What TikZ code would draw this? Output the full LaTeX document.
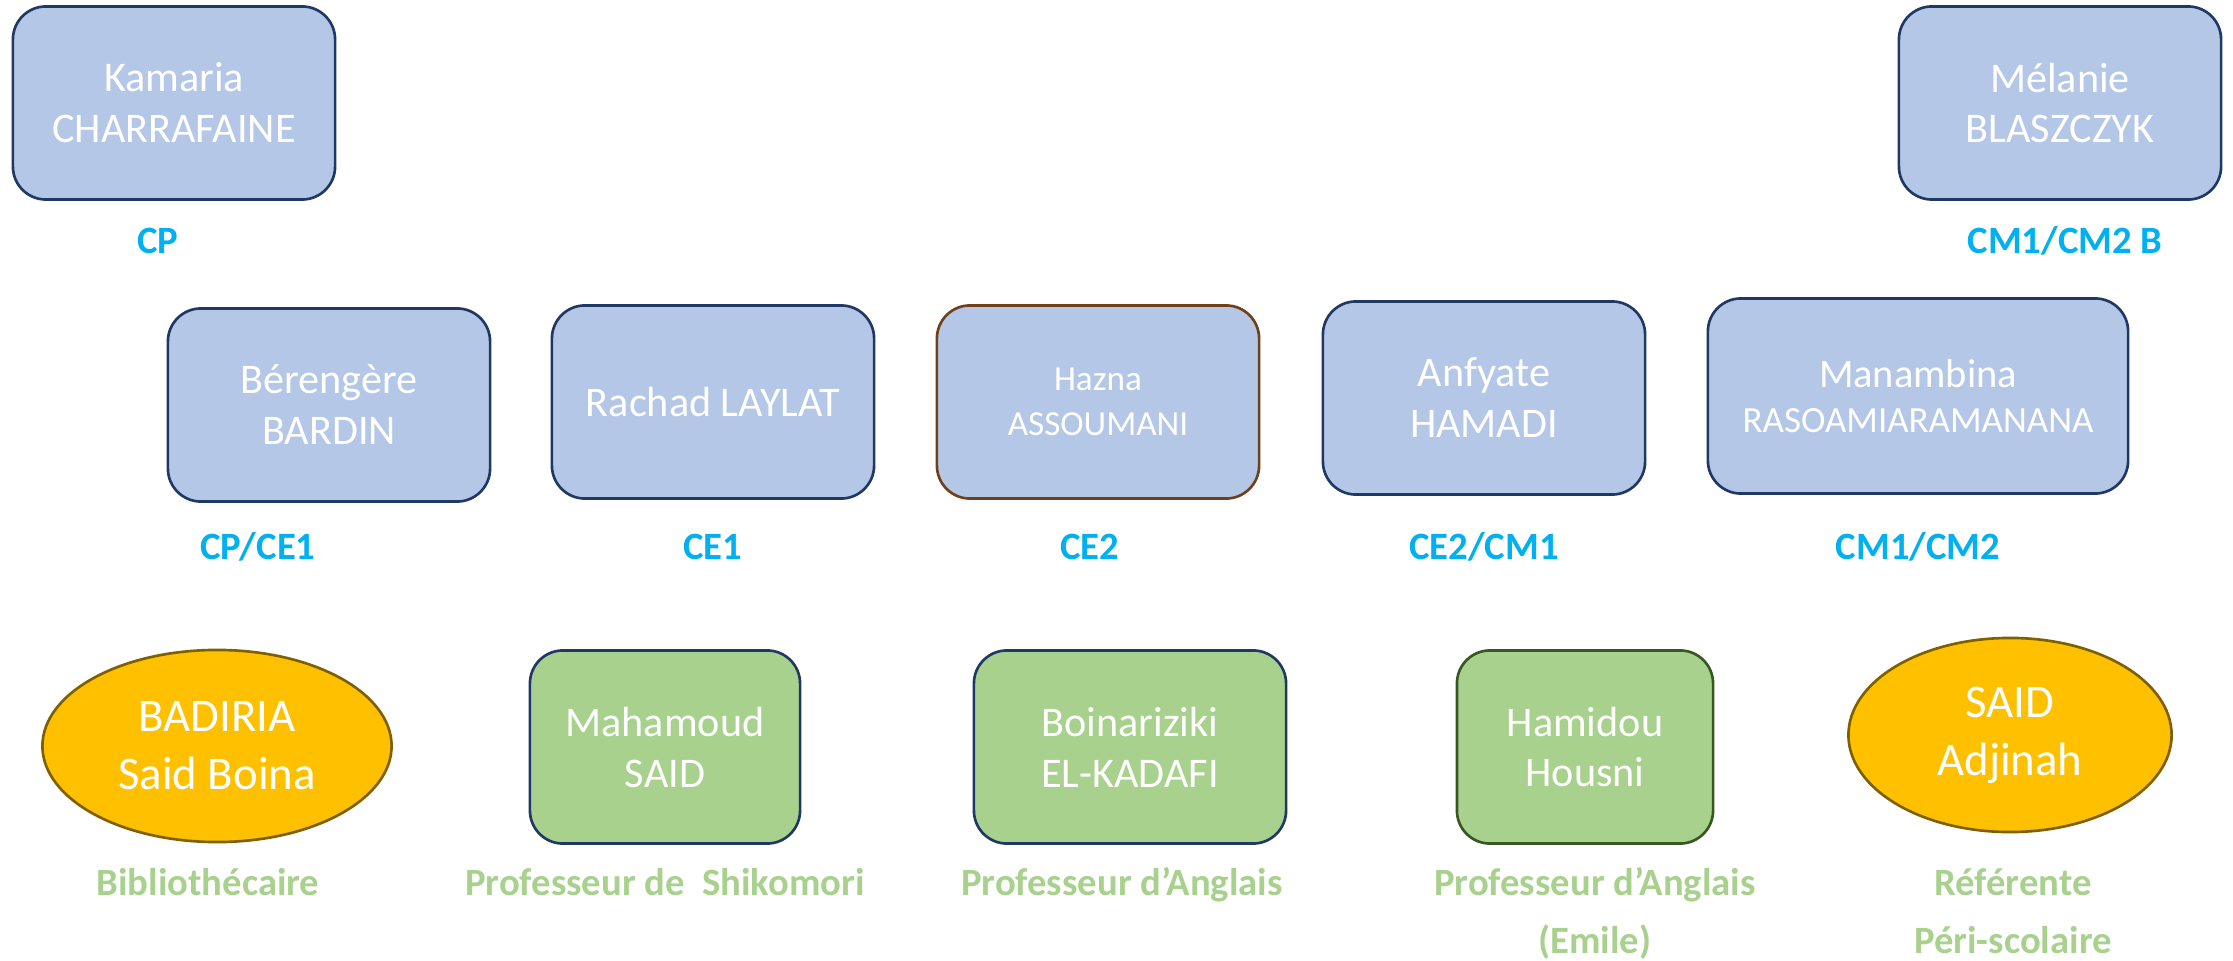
\documentclass[tikz,border=0pt]{standalone}
\usepackage{fontspec}
\setmainfont{Carlito}
\usetikzlibrary{shapes}

\definecolor{boxblue}{HTML}{B4C7E7}
\definecolor{navy}{HTML}{1F3864}
\definecolor{rust}{HTML}{70401A}
\definecolor{gold}{HTML}{FFC000}
\definecolor{olive}{HTML}{7F6000}
\definecolor{leaf}{HTML}{A9D18E}
\definecolor{forest}{HTML}{385723}
\definecolor{sky}{HTML}{00B0F0}

\begin{document}
\begin{tikzpicture}[x=0.01cm,y=-0.01cm]

      \tikzstyle{teacher}=[rectangle,rounded corners=0.33cm,line width=0.75pt,draw=navy,fill=boxblue,text=white,align=center,minimum width=3.22cm,minimum height=1.93cm,font=\fontsize{12}{14.5}\selectfont]
      \tikzstyle{staff}=[teacher,fill=leaf]
      \tikzstyle{helper}=[ellipse,line width=0.75pt,draw=olive,fill=gold,text=white,align=center,inner sep=0pt,font=\fontsize{13.3}{16.5}\selectfont]
      \tikzstyle{classlbl}=[inner sep=0pt,anchor=base,text=sky,font=\bfseries\fontsize{11}{16.5}\selectfont]
      \tikzstyle{rolelbl}=[classlbl,text=leaf,align=center]

      \useasboundingbox (0,0) rectangle (2233,961);

        \node [teacher] (kam) at (174,103) [label={[classlbl,label distance=0.525cm,xshift=-0.16cm]below:CP}] {Kamaria\\CHARRAFAINE};      %CP
        \node [teacher] (mel) at (2060,103) [label={[classlbl,label distance=0.525cm,xshift=0.05cm]below:CM1/CM2 B}] {Mélanie\\BLASZCZYK};

        \node [teacher] (ber) at (329,405) [label={[classlbl,label distance=0.565cm,xshift=-0.71cm]below:CP/CE1}] {Bérengère\\BARDIN};
        \node [teacher] (rac) at (713,402) [label={[classlbl,label distance=0.595cm]below:CE1}] {Rachad LAYLAT};
        \node [teacher,draw=rust,font=\fontsize{10}{12.8}\selectfont] (haz) at (1098,402) [label={[classlbl,label distance=0.595cm,xshift=-0.08cm]below:CE2}] {Hazna\\ASSOUMANI};
        \node [teacher] (anf) at (1484,398) [label={[classlbl,label distance=0.635cm]below:CE2/CM1}] {Anfyate\\HAMADI};
        \node [teacher,minimum width=4.2cm,minimum height=1.95cm,font=\fontsize{10.5}{13}\selectfont] (man) at (1918,396) [label={[classlbl,label distance=0.645cm]below:CM1/CM2}] {{\fontsize{11.5}{13}\selectfont Manambina}\\RASOAMIARAMANANA};

        \node [helper,minimum width=3.49cm,minimum height=1.92cm] (bad) at (217,746) [label={[rolelbl,label distance=0.52cm,xshift=-0.09cm]below:Bibliothécaire}] {BADIRIA\\Said Boina};
        \node [staff,minimum width=2.7cm] (mah) at (665,747) [label={[rolelbl,label distance=0.51cm]below:Professeur de\ \ Shikomori}] {Mahamoud\\SAID};
        \node [staff,minimum width=3.12cm] (boi) at (1130,747) [label={[rolelbl,label distance=0.51cm,xshift=-0.08cm]below:Professeur d’Anglais}] {Boinariziki\\EL-KADAFI};
        \node [staff,draw=forest,minimum width=2.56cm] (ham) at (1585,747) [label={[rolelbl,label distance=1.085cm,xshift=0.1cm]below:Professeur d’Anglais\\(Emile)}] {Hamidou\\Housni};
        \node [helper,minimum width=3.23cm,minimum height=1.94cm] (sai) at (2010,735) [label={[rolelbl,label distance=1.2cm,xshift=0.03cm]below:Référente\\Péri-scolaire}] {SAID\\Adjinah};

\end{tikzpicture}
\end{document}
